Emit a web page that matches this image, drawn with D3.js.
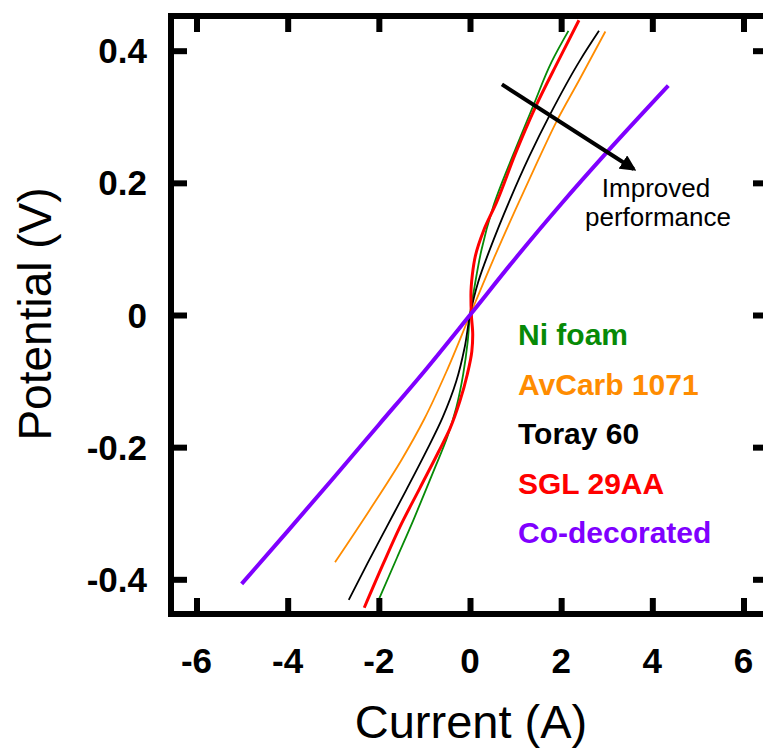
<!DOCTYPE html>
<html>
<head>
<meta charset="utf-8">
<script src="https://cdn.jsdelivr.net/npm/d3@7"></script>
<style>
  body { margin: 0; background: #fff; }
  text { font-family: "Liberation Sans", Arial, sans-serif; }
</style>
</head>
<body>
<div id="chart"></div>
<script>
// polarization curves, potential vs current: [current, potential]
var niFoam = [[-1.99,-0.429],[-1.6,-0.367],[-1.24,-0.31],[-1.0,-0.27],[-0.75,-0.228],[-0.5,-0.185],
    [-0.3,-0.14],[-0.15,-0.09],[-0.05,-0.04],[0,0],[0.1,0.043],[0.25,0.098],[0.5,0.162],[0.95,0.243],
    [1.39,0.317],[1.79,0.383],[2.16,0.43]];
var avCarb = [[-2.96,-0.374],[-2.2,-0.295],[-1.5,-0.219],[-1.0,-0.157],[-0.5,-0.083],[0,0],
    [0.5,0.082],[1.0,0.16],[1.5,0.235],[1.9,0.293],[2.4,0.356],[2.97,0.429]];
var toray = [[-2.66,-0.431],[-2.25,-0.376],[-1.83,-0.321],[-1.4,-0.265],[-0.95,-0.205],[-0.6,-0.155],
    [-0.3,-0.1],[-0.12,-0.05],[0,0],[0.18,0.05],[0.44,0.1],[0.88,0.175],[1.3,0.24],
    [1.76,0.304],[2.41,0.385],[2.83,0.43]];
var sgl = [[-2.32,-0.443],[-1.9,-0.376],[-1.54,-0.321],[-1.1,-0.262],[-0.69,-0.207],[-0.44,-0.172],
    [-0.22,-0.13],[-0.06,-0.09],[0.04,-0.055],[0.06,-0.03],[0.03,0],[0.02,0.03],
    [0.05,0.06],[0.12,0.09],[0.3,0.128],[0.58,0.17],[1.0,0.245],[1.43,0.314],
    [1.94,0.385],[2.39,0.446]];
var coDecorated = [[-5.01,-0.407],[-4,-0.327],[-3,-0.247],[-2,-0.166],[-1,-0.085],[0,0],
    [1,0.086],[2,0.168],[3,0.246],[4.35,0.347]];

var seriesNames = ["Ni foam", "AvCarb 1071", "Toray 60", "SGL 29AA", "Co-decorated"];
var seriesData = [niFoam, avCarb, toray, sgl, coDecorated];
var seriesColors = ["#078a07", "#ff8c00", "#000000", "#ff0000", "#7f00ff"];
var seriesWidths = [1.8, 1.8, 1.8, 3, 4];

var xTicks = [-6, -4, -2, 0, 2, 4, 6];
var yTicks = [-0.4, -0.2, 0, 0.2, 0.4];

// arrow annotation, in data units
var arrowFrom = [0.70, 0.349];
var arrowTo = [3.59, 0.221];

var width = 763;
var height = 754;

var svg = d3.select("#chart")
    .append("svg")
    .attr("width", width)
    .attr("height", height);

var x = d3.scaleLinear().domain([-6.56, 6.56]).range([171, 769]);
var y = d3.scaleLinear().domain([-0.4525, 0.4525]).range([614, 16]);

// curves (points are ordered by potential, so smooth along y)
var line = d3.line()
    .x(function(d) { return x(d[0]); })
    .y(function(d) { return y(d[1]); })
    .curve(d3.curveMonotoneY);

svg.append("g")
    .selectAll("path")
    .data(seriesData)
    .enter()
    .append("path")
    .attr("d", line)
    .attr("fill", "none")
    .attr("stroke", function(d, i) { return seriesColors[i]; })
    .attr("stroke-width", function(d, i) { return seriesWidths[i]; })
    .attr("stroke-linejoin", "round");

// frame
svg.append("rect")
    .attr("x", x.range()[0])
    .attr("y", y.range()[1])
    .attr("width", x.range()[1] - x.range()[0])
    .attr("height", y.range()[0] - y.range()[1])
    .attr("fill", "none")
    .attr("stroke", "#000")
    .attr("stroke-width", 6);

// inward ticks on all four sides
var tickLen = 16;
var axisBottom = d3.axisBottom(x).tickValues(xTicks).tickSize(-tickLen).tickFormat("");
var axisTop = d3.axisTop(x).tickValues(xTicks).tickSize(-tickLen).tickFormat("");
var axisLeft = d3.axisLeft(y).tickValues(yTicks).tickSize(-tickLen).tickFormat("");
var axisRight = d3.axisRight(y).tickValues(yTicks).tickSize(-tickLen).tickFormat("");

[[axisBottom, 0, y.range()[0]], [axisTop, 0, y.range()[1]],
 [axisLeft, x.range()[0], 0], [axisRight, x.range()[1], 0]].forEach(function(a) {
    var g = svg.append("g")
        .attr("transform", "translate(" + a[1] + "," + a[2] + ")")
        .call(a[0]);
    g.select(".domain").remove();
    g.selectAll(".tick line").attr("stroke", "#000").attr("stroke-width", 6);
});

// tick labels
svg.append("g")
    .selectAll("text")
    .data(xTicks)
    .enter()
    .append("text")
    .attr("x", function(d) { return x(d); })
    .attr("y", 673)
    .attr("text-anchor", "middle")
    .style("font-size", "35px")
    .style("font-weight", "bold")
    .text(function(d) { return d; });

svg.append("g")
    .selectAll("text")
    .data(yTicks)
    .enter()
    .append("text")
    .attr("x", 147)
    .attr("y", function(d) { return y(d); })
    .attr("dy", "0.36em")
    .attr("text-anchor", "end")
    .style("font-size", "35px")
    .style("font-weight", "bold")
    .text(function(d) { return d; });

// axis titles
svg.append("text")
    .attr("x", 471)
    .attr("y", 738)
    .attr("text-anchor", "middle")
    .style("font-size", "47px")
    .text("Current (A)");

svg.append("text")
    .attr("transform", "translate(51,314) rotate(-90)")
    .attr("text-anchor", "middle")
    .style("font-size", "46px")
    .text("Potential (V)");

// legend
svg.append("g")
    .selectAll("text")
    .data(seriesNames)
    .enter()
    .append("text")
    .attr("x", 518)
    .attr("y", function(d, i) { return 345 + i * 49.5; })
    .style("font-size", "30px")
    .style("font-weight", "bold")
    .attr("fill", function(d, i) { return seriesColors[i]; })
    .text(function(d) { return d; });

// arrow + label
svg.append("defs").append("marker")
    .attr("id", "head")
    .attr("viewBox", "0 0 10 10")
    .attr("refX", 8)
    .attr("refY", 5)
    .attr("markerWidth", 4)
    .attr("markerHeight", 4)
    .attr("orient", "auto")
    .append("path")
    .attr("d", "M0,0L10,5L0,10z")
    .attr("fill", "#000");

svg.append("line")
    .attr("x1", x(arrowFrom[0]))
    .attr("y1", y(arrowFrom[1]))
    .attr("x2", x(arrowTo[0]))
    .attr("y2", y(arrowTo[1]))
    .attr("stroke", "#000")
    .attr("stroke-width", 4)
    .attr("marker-end", "url(#head)");

svg.append("text")
    .attr("x", 656)
    .attr("y", 197)
    .attr("text-anchor", "middle")
    .style("font-size", "26px")
    .text("Improved");

svg.append("text")
    .attr("x", 658)
    .attr("y", 226)
    .attr("text-anchor", "middle")
    .style("font-size", "26px")
    .text("performance");
</script>
</body>
</html>
